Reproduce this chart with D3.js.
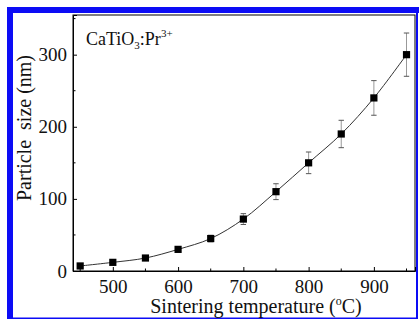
<!DOCTYPE html>
<html>
<head>
<meta charset="utf-8">
<script src="https://cdn.jsdelivr.net/npm/d3@7"></script>
<style>
  body { margin: 0; background: #fff; }
</style>
</head>
<body>
<svg id="chart" width="419" height="320"></svg>
<script>
// 烧结温度 (°C)
var temps = [450, 500, 550, 600, 650, 700, 750, 800, 850, 900, 950];
// 颗粒尺寸 (nm)
var sizes = [7, 12, 18, 30, 45, 72, 110, 150, 190, 240, 300];
// 误差
var errs = [0.7, 1.2, 1.8, 3, 4.5, 7.5, 11, 15, 19, 24, 30];

var xTicks = [500, 600, 700, 800, 900];
var xMinor = [450, 550, 650, 750, 850, 950];
var yTicks = [0, 100, 200, 300];
var yMinor = [50, 150, 250, 350];

var serif = "'Liberation Serif', 'DejaVu Serif', 'Times New Roman', serif";
var margin = {left: 73, top: 15, right: 415, bottom: 271};

var svg = d3.select("#chart");

var xScale = d3.scaleLinear().domain([439, 963]).range([margin.left, margin.right]);
var yScale = d3.scaleLinear().domain([0, 355]).range([margin.bottom, margin.top]);

//蓝色外框
var blue = "#0c0cf5";
svg.append("rect").attr("x", 7).attr("y", 7).attr("width", 6).attr("height", 312).attr("fill", blue);
svg.append("rect").attr("x", 7).attr("y", 7).attr("width", 412).attr("height", 6).attr("fill", blue);
svg.append("rect").attr("x", 416).attr("y", 7).attr("width", 2).attr("height", 312).attr("fill", blue);
svg.append("rect").attr("x", 7).attr("y", 317.5).attr("width", 411).attr("height", 1.5).attr("fill", blue);

//绘图区边框
svg.append("rect")
    .attr("x", margin.left)
    .attr("y", margin.top)
    .attr("width", margin.right - margin.left)
    .attr("height", margin.bottom - margin.top)
    .attr("fill", "none")
    .attr("stroke", "#000")
    .attr("stroke-width", 1);

//x轴
var xAxis = d3.axisBottom(xScale).tickValues(xTicks).tickSize(-4).tickPadding(9).tickFormat(d3.format("d"));
var gx = svg.append("g").attr("transform", "translate(0," + margin.bottom + ")").call(xAxis);
gx.attr("font-family", serif).attr("font-size", 19);
gx.select(".domain").attr("stroke", "#000");
gx.selectAll("text").attr("fill", "#111");
svg.append("g").selectAll("line")
    .data(xMinor)
    .join("line")
    .attr("x1", d => xScale(d)).attr("x2", d => xScale(d))
    .attr("y1", margin.bottom).attr("y2", margin.bottom - 2.5)
    .attr("stroke", "#000");

//y轴
var yAxis = d3.axisLeft(yScale).tickValues(yTicks).tickSize(-4).tickPadding(6).tickFormat(d3.format("d"));
var gy = svg.append("g").attr("transform", "translate(" + margin.left + ",0)").call(yAxis);
gy.attr("font-family", serif).attr("font-size", 19);
gy.select(".domain").attr("stroke", "#000");
gy.selectAll("text").attr("fill", "#111");
svg.append("g").selectAll("line")
    .data(yMinor)
    .join("line")
    .attr("x1", margin.left).attr("x2", margin.left + 2.5)
    .attr("y1", d => yScale(d)).attr("y2", d => yScale(d))
    .attr("stroke", "#000");

//连线
var line = d3.line()
    .x((d, i) => xScale(temps[i]))
    .y(d => yScale(d))
    .curve(d3.curveCatmullRom);
svg.append("path")
    .datum(sizes)
    .attr("d", line)
    .attr("fill", "none")
    .attr("stroke", "#333")
    .attr("stroke-width", 1);

//误差棒
var eg = svg.append("g");
temps.forEach((t, i) => {
    var x = xScale(t);
    var y1 = yScale(sizes[i] + errs[i]);
    var y2 = yScale(sizes[i] - errs[i]);
    eg.append("line").attr("x1", x).attr("x2", x).attr("y1", y1).attr("y2", y2)
        .attr("stroke", "#999").attr("stroke-width", 1);
    [y1, y2].forEach(y => {
        eg.append("line").attr("x1", x - 2.7).attr("x2", x + 2.7).attr("y1", y).attr("y2", y)
            .attr("stroke", "#555").attr("stroke-width", 1);
    });
});

//数据点
svg.append("g").selectAll("rect")
    .data(sizes)
    .join("rect")
    .attr("x", (d, i) => xScale(temps[i]) - 3.6)
    .attr("y", d => yScale(d) - 3.6)
    .attr("width", 7.2)
    .attr("height", 7.2)
    .attr("fill", "#000");

//样品标注
var label = svg.append("text").attr("x", 86).attr("y", 45)
    .attr("font-family", serif).attr("font-size", 18).attr("fill", "#111");
label.append("tspan").text("CaTiO");
label.append("tspan").attr("dy", 4).attr("font-size", 11).text("3");
label.append("tspan").attr("dy", -4).text(":Pr");
label.append("tspan").attr("dy", -8).attr("font-size", 11).text("3+");

//坐标轴标题
var xt = svg.append("text")
    .attr("x", 256)
    .attr("y", 313)
    .attr("text-anchor", "middle")
    .attr("font-family", serif).attr("font-size", 20).attr("fill", "#111");
xt.append("tspan").text("Sintering temperature (");
xt.append("tspan").attr("dy", -8).attr("font-size", 12).text("o");
xt.append("tspan").attr("dy", 8).text("C)");

svg.append("text")
    .attr("transform", "translate(31,128) rotate(-90)")
    .attr("text-anchor", "middle")
    .attr("font-family", serif).attr("font-size", 20).attr("fill", "#111")
    .style("white-space", "pre")
    .text("Particle  size (nm)");
</script>
</body>
</html>
